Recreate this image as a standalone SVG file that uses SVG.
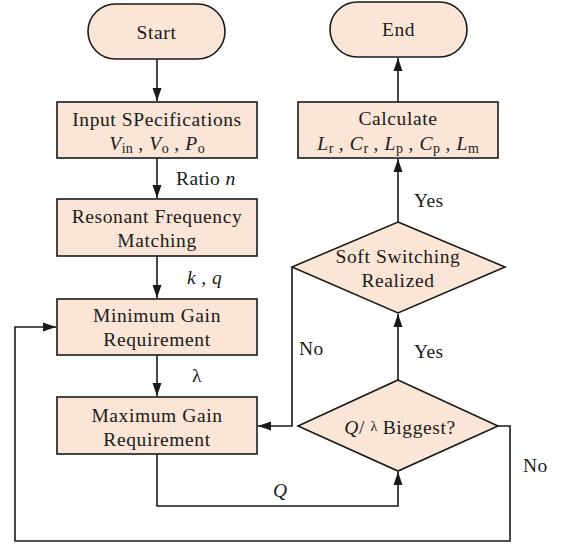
<svg xmlns="http://www.w3.org/2000/svg" width="563" height="544" viewBox="0 0 563 544">
<style>
.n{fill:#FBE5D6;stroke:#1a1a1a;stroke-width:1.6}
.t{font-family:"Liberation Serif","Times New Roman",serif;font-size:19.5px;letter-spacing:0.6px;fill:#1a1a1a;text-anchor:middle}
.l{font-family:"Liberation Serif","Times New Roman",serif;font-size:19.5px;letter-spacing:0.4px;fill:#1a1a1a}
.i{font-style:italic}
.s{font-size:14px;letter-spacing:0}
.c{fill:none;stroke:#1a1a1a;stroke-width:1.6}
</style>
<defs>
<marker id="a" markerUnits="userSpaceOnUse" markerWidth="14" markerHeight="12" viewBox="0 0 14 12" refX="13" refY="6" orient="auto">
<path d="M0,1.5 L13,6 L0,10.5 Z" fill="#1a1a1a"/>
</marker>
</defs>
<g id="connectors">
<path class="c" d="M157,59 V101" marker-end="url(#a)"/>
<path class="c" d="M157,158 V198" marker-end="url(#a)"/>
<path class="c" d="M157,256 V298" marker-end="url(#a)"/>
<path class="c" d="M157,355 V396" marker-end="url(#a)"/>
<path class="c" d="M157,454 V506 H398 V472" marker-end="url(#a)"/>
<path class="c" d="M398,380 V314" marker-end="url(#a)"/>
<path class="c" d="M398,222 V159" marker-end="url(#a)"/>
<path class="c" d="M398,102 V58" marker-end="url(#a)"/>
<path class="c" d="M292,267 V426 H258" marker-end="url(#a)"/>
<path class="c" d="M498,426 H510 V541 H15 V327 H56" marker-end="url(#a)"/>
<text class="l" x="176" y="185">Ratio <tspan class="i">n</tspan></text>
<text class="l i" x="187" y="284">k , q</text>
<text class="l" x="192" y="382">λ</text>
<text class="l" x="414" y="207">Yes</text>
<text class="l" x="414" y="358">Yes</text>
<text class="l" x="299" y="355">No</text>
<text class="l" x="523" y="472">No</text>
<text class="l i" x="273" y="497">Q</text>
</g>
<g id="start">
<rect class="n" x="88" y="4" width="137" height="55" rx="27.5"/>
<text class="t" x="156.5" y="39">Start</text>
</g>
<g id="input">
<rect class="n" x="57" y="102" width="200" height="56"/>
<text class="t" x="157" y="126">Input SPecifications</text>
<text class="t" x="157" y="150"><tspan class="i">V</tspan><tspan class="s" dy="3">in</tspan><tspan dy="-3"> , </tspan><tspan class="i">V</tspan><tspan class="s" dy="3">o</tspan><tspan dy="-3"> , </tspan><tspan class="i">P</tspan><tspan class="s" dy="3">o</tspan></text>
</g>
<g id="resonant">
<rect class="n" x="57" y="199" width="200" height="57"/>
<text class="t" x="157" y="223">Resonant Frequency</text>
<text class="t" x="157" y="247">Matching</text>
</g>
<g id="mingain">
<rect class="n" x="57" y="299" width="200" height="56"/>
<text class="t" x="157" y="322">Minimum Gain</text>
<text class="t" x="157" y="346">Requirement</text>
</g>
<g id="maxgain">
<rect class="n" x="57" y="397" width="200" height="57"/>
<text class="t" x="157" y="422">Maximum Gain</text>
<text class="t" x="157" y="446">Requirement</text>
</g>
<g id="biggest">
<polygon class="n" points="398,380 498,426 398,471 298,426"/>
<text class="t" x="400" y="434"><tspan class="i">Q</tspan>/ <tspan class="s" dy="-3">λ</tspan><tspan dy="3"> Biggest?</tspan></text>
</g>
<g id="softswitch">
<polygon class="n" points="398,222 505,267 398,313 292,267"/>
<text class="t" x="398" y="263">Soft Switching</text>
<text class="t" x="398" y="287">Realized</text>
</g>
<g id="calculate">
<rect class="n" x="298" y="102" width="200" height="56"/>
<text class="t" x="398" y="125">Calculate</text>
<text class="t" x="398" y="150"><tspan class="i">L</tspan><tspan class="s" dy="3">r</tspan><tspan dy="-3"> , </tspan><tspan class="i">C</tspan><tspan class="s" dy="3">r</tspan><tspan dy="-3"> , </tspan><tspan class="i">L</tspan><tspan class="s" dy="3">p</tspan><tspan dy="-3"> , </tspan><tspan class="i">C</tspan><tspan class="s" dy="3">p</tspan><tspan dy="-3"> , </tspan><tspan class="i">L</tspan><tspan class="s" dy="3">m</tspan></text>
</g>
<g id="end">
<rect class="n" x="330" y="2" width="137" height="55" rx="27.5"/>
<text class="t" x="398.5" y="36">End</text>
</g>
</svg>
